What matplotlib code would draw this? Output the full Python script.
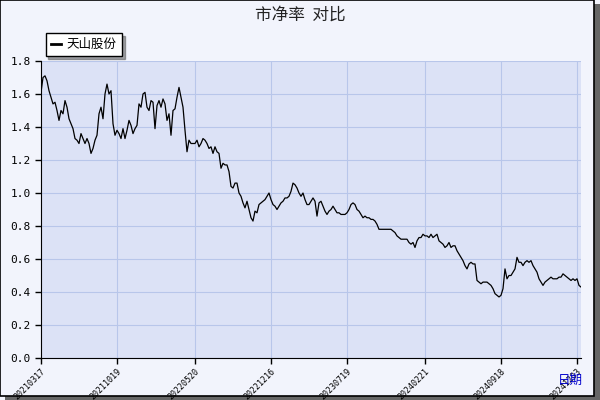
import matplotlib
matplotlib.use("Agg")
import matplotlib.pyplot as plt
from matplotlib.patches import Rectangle

plt.rcParams['font.family'] = ['Noto Sans CJK SC', 'DejaVu Sans']

title = "市净率  对比"
series_name = "天山股份"
xlabel = "日期"
tick_labels = ["20210317", "20211019", "20220520", "20221216", "20230719",
               "20240221", "20240918", "20241203"]
tick_index = [0, 38, 77, 115, 153, 192, 230, 268]
pb = [1.61, 1.70, 1.71, 1.68, 1.62, 1.58, 1.54, 1.55, 1.50, 1.44, 1.50, 1.48, 1.56, 1.52, 1.45,
      1.42, 1.39, 1.33, 1.32, 1.30, 1.36, 1.33, 1.30, 1.33, 1.30, 1.24, 1.27, 1.32, 1.35, 1.48,
      1.52, 1.45, 1.60, 1.66, 1.60, 1.62, 1.42, 1.35, 1.38, 1.36, 1.33, 1.39, 1.33, 1.38, 1.44,
      1.41, 1.36, 1.39, 1.41, 1.54, 1.52, 1.60, 1.61, 1.52, 1.50, 1.56, 1.55, 1.39, 1.53, 1.56,
      1.52, 1.57, 1.54, 1.44, 1.48, 1.35, 1.50, 1.51, 1.58, 1.64, 1.58, 1.52, 1.38, 1.25, 1.32,
      1.30, 1.30, 1.30, 1.32, 1.28, 1.30, 1.33, 1.32, 1.30, 1.27, 1.28, 1.24, 1.28, 1.25, 1.24,
      1.15, 1.18, 1.17, 1.17, 1.13, 1.04, 1.03, 1.06, 1.06, 1.00, 0.98, 0.94, 0.91, 0.95, 0.90,
      0.85, 0.83, 0.89, 0.88, 0.93, 0.94, 0.95, 0.96, 0.98, 1.00, 0.96, 0.93, 0.92, 0.90, 0.92,
      0.94, 0.95, 0.97, 0.97, 0.98, 1.01, 1.06, 1.05, 1.03, 1.00, 0.98, 1.00, 0.96, 0.93, 0.93,
      0.95, 0.97, 0.95, 0.86, 0.94, 0.95, 0.92, 0.89, 0.87, 0.89, 0.90, 0.92, 0.90, 0.88, 0.88,
      0.87, 0.87, 0.87, 0.88, 0.90, 0.93, 0.94, 0.93, 0.90, 0.89, 0.87, 0.85, 0.86, 0.85, 0.85,
      0.84, 0.84, 0.83, 0.81, 0.78, 0.78, 0.78, 0.78, 0.78, 0.78, 0.78, 0.77, 0.76, 0.74, 0.73,
      0.72, 0.72, 0.72, 0.72, 0.70, 0.69, 0.70, 0.67, 0.71, 0.73, 0.73, 0.75, 0.74, 0.74, 0.73,
      0.75, 0.73, 0.74, 0.75, 0.71, 0.70, 0.69, 0.67, 0.68, 0.70, 0.67, 0.68, 0.68, 0.65, 0.63,
      0.61, 0.59, 0.56, 0.54, 0.57, 0.58, 0.57, 0.57, 0.47, 0.46, 0.45, 0.46, 0.46, 0.46, 0.45,
      0.44, 0.42, 0.39, 0.38, 0.37, 0.38, 0.42, 0.54, 0.48, 0.50, 0.50, 0.52, 0.54, 0.61, 0.58,
      0.58, 0.56, 0.58, 0.59, 0.58, 0.59, 0.56, 0.54, 0.52, 0.48, 0.46, 0.44, 0.46, 0.47, 0.48,
      0.49, 0.48, 0.48, 0.48, 0.49, 0.49, 0.51, 0.50, 0.49, 0.48, 0.47, 0.48, 0.47, 0.48, 0.44,
      0.43]

fig = plt.figure(figsize=(6, 4), dpi=100, facecolor='#F2F4FC')
fig.patches.append(Rectangle((0.008, 0.0), 0.992, 0.99, transform=fig.transFigure,
                             facecolor='#666666', edgecolor='none', zorder=-2))
fig.patches.append(Rectangle((0.0, 0.01), 0.99, 0.99, transform=fig.transFigure,
                             facecolor='#F2F4FC', edgecolor='black', linewidth=1.2, zorder=-1))

ax = fig.add_axes([41/600, 1-358/400, 540/600, 297/400])
ax.set_facecolor('#DCE2F6')
x = list(range(len(pb)))
line, = ax.plot(x, pb, color='black', linewidth=0.9)
ax.set_xlim(0, len(pb) - 1)
ax.set_ylim(0, 1.8)
ax.set_yticks([i * 0.2 for i in range(10)])
ax.set_yticklabels([f"{i * 0.2:.1f}" for i in range(10)], fontsize=8, family='DejaVu Sans Mono')
ax.set_xticks(tick_index)
ax.set_xticklabels(tick_labels, rotation=45, ha='right', va='top', rotation_mode='anchor',
                   fontsize=6, family='DejaVu Sans Mono')
ax.grid(True, color='#B8C6EA', linewidth=0.8)
ax.set_axisbelow(True)
for s in ['top', 'right']:
    ax.spines[s].set_visible(False)
ax.tick_params(length=4, width=1, direction='out')
ax.tick_params(axis='x', pad=2)

fig.text(0.5, 0.962, title, ha='center', va='center', fontsize=12, color='#222222')
fig.text(0.95, 0.05, xlabel, ha='center', va='center', fontsize=9, color='#0000CC')

leg = ax.legend([line], [series_name], loc='upper left', bbox_to_anchor=(-0.003, 1.115),
                fontsize=9, frameon=True, fancybox=False, shadow=True,
                handlelength=0.8, borderpad=0.4, handletextpad=0.5)
leg.get_frame().set_edgecolor('black')
leg.get_frame().set_facecolor('white')
leg.legend_handles[0].set_linewidth(2)

fig.savefig('out.png', dpi=100, facecolor=fig.get_facecolor())
